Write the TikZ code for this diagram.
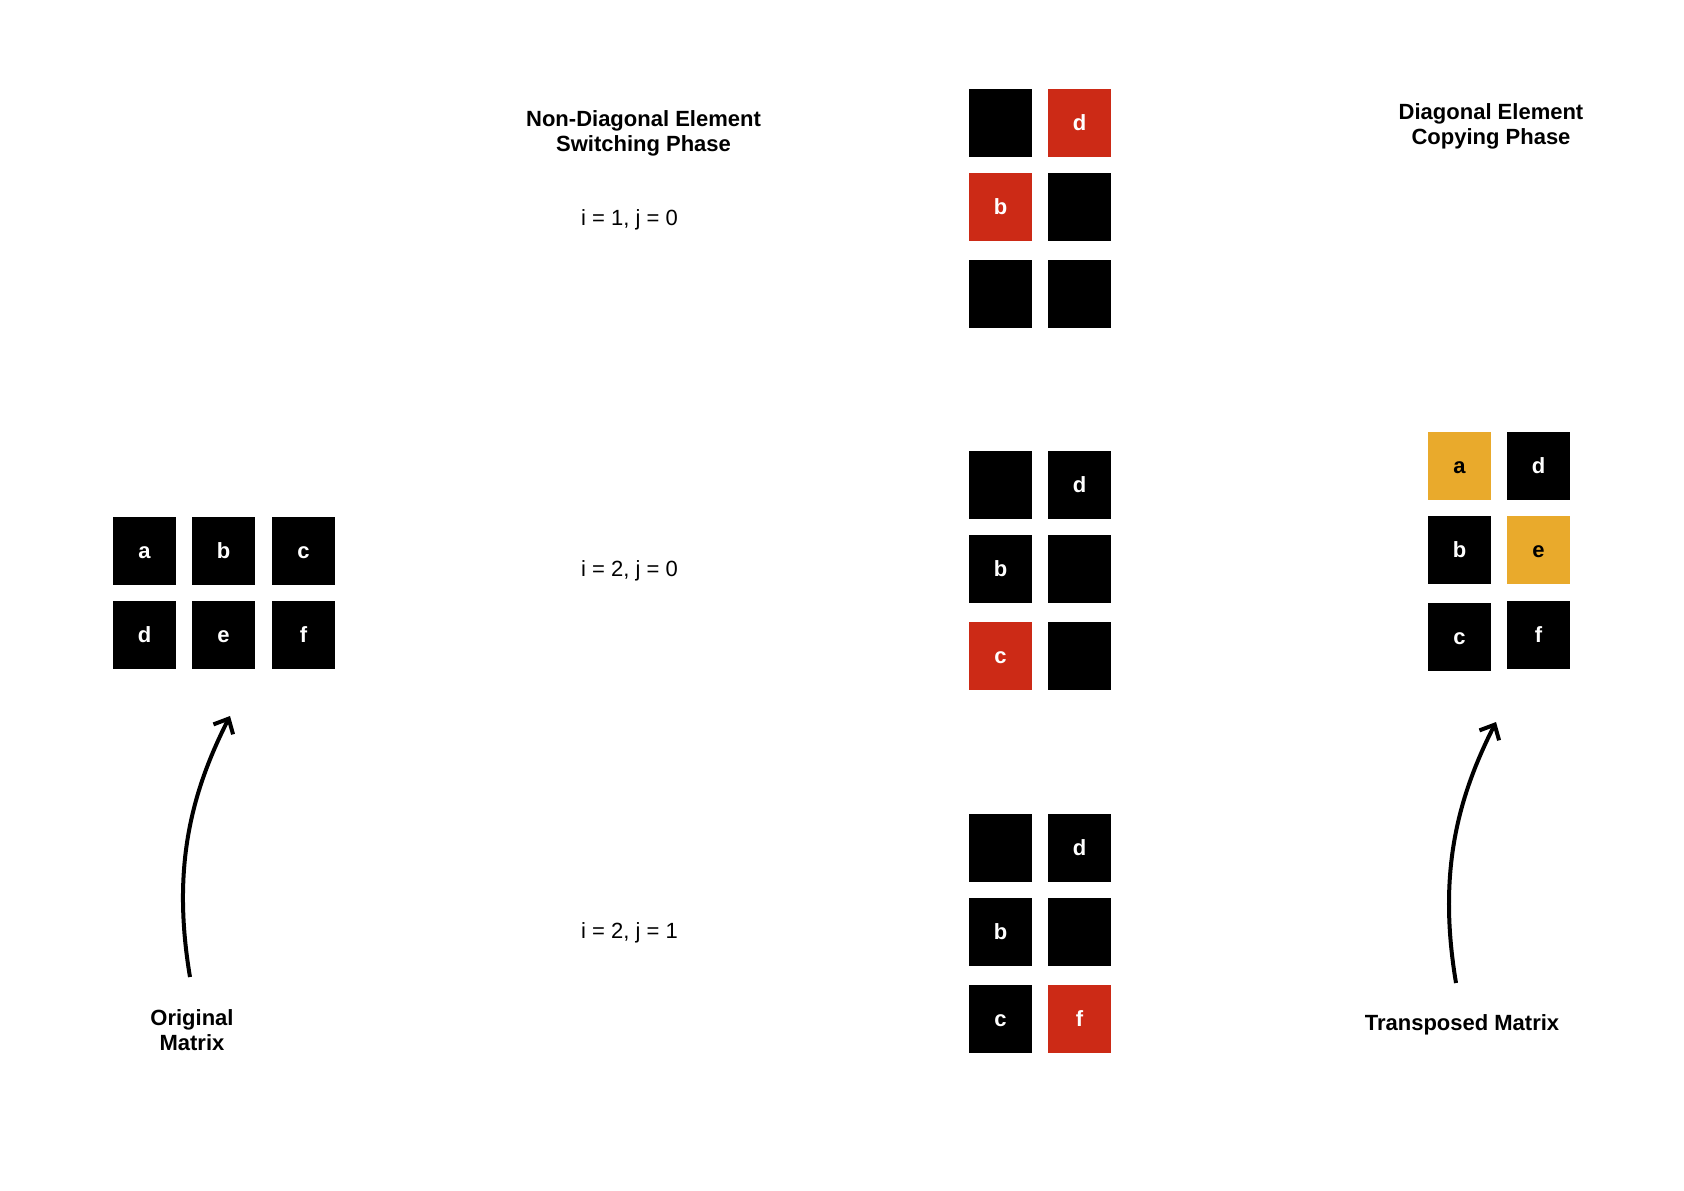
\documentclass[tikz,border=0pt]{standalone}
\usepackage{fontspec}
\setmainfont{Liberation Sans}
\usetikzlibrary{arrows.meta}
\definecolor{cellred}{RGB}{204,42,22}
\definecolor{cellgold}{RGB}{233,170,44}
\tikzset{
  cell/.style={rectangle, fill=black, text=white, inner sep=0pt,
    minimum width=31.5pt, minimum height=34pt,
    text height=0.72em, text depth=0pt,
    font=\fontsize{11}{12}\selectfont\bfseries},
  redcell/.style={cell, fill=cellred},
  goldcell/.style={cell, fill=cellgold, text=black},
  title/.style={align=center, inner sep=0pt,
    font=\fontsize{11}{12.5}\selectfont\bfseries},
  step label/.style={inner sep=0pt, font=\fontsize{11}{12.5}\selectfont},
  curvearrow/.style={line width=2pt, -{Straight Barb[length=6pt,width=11pt,line width=2pt]}}
}
\begin{document}
\begin{tikzpicture}[x=0.5pt,y=-0.5pt]
\useasboundingbox[fill=white] (0,0) rectangle (1684,1190);

% Original matrix
\node[cell] (oa) at (144.5,551) {a};
\node[cell] (ob) at (223.5,551) {b};
\node[cell] (oc) at (303.5,551) {c};
\node[cell] (od) at (144.5,635) {d};
\node[cell] (oe) at (223.5,635) {e};
\node[cell] (of) at (303.5,635) {f};

% Step 1
\node[cell]    (s1a) at (1000.5,123) {};
\node[redcell] (s1d) at (1079.5,123) {d};
\node[redcell] (s1b) at (1000.5,207) {b};
\node[cell]    (s1e) at (1079.5,207) {};
\node[cell]    (s1c) at (1000.5,294) {};
\node[cell]    (s1f) at (1079.5,294) {};

% Step 2
\node[cell]    (s2a) at (1000.5,485) {};
\node[cell]    (s2d) at (1079.5,485) {d};
\node[cell]    (s2b) at (1000.5,569) {b};
\node[cell]    (s2e) at (1079.5,569) {};
\node[redcell] (s2c) at (1000.5,656) {c};
\node[cell]    (s2f) at (1079.5,656) {};

% Step 3
\node[cell]    (s3a) at (1000.5,848) {};
\node[cell]    (s3d) at (1079.5,848) {d};
\node[cell]    (s3b) at (1000.5,932) {b};
\node[cell]    (s3e) at (1079.5,932) {};
\node[cell]    (s3c) at (1000.5,1019) {c};
\node[redcell] (s3f) at (1079.5,1019) {f};

% Transposed matrix
\node[goldcell] (ta) at (1459.5,466) {a};
\node[cell]     (td) at (1538.5,466) {d};
\node[cell]     (tb) at (1459.5,550) {b};
\node[goldcell] (te) at (1538.5,550) {e};
\node[cell]     (tc) at (1459.5,637) {c};
\node[cell]     (tf) at (1538.5,635) {f};

% Labels
\node[title] (phase1) at (643.5,133.5) {Non-Diagonal Element\\Switching Phase};
\node[title] (phase2) at (1491,126) {Diagonal Element\\Copying Phase};
\node[title] (origlbl) at (192,1030) {Original\\Matrix};
\node[title] (translbl) at (1462,1025) {Transposed Matrix};
\node[step label] (st1) at (629.5,220) {i = 1, j = 0};
\node[step label] (st2) at (629.5,571) {i = 2, j = 0};
\node[step label] (st3) at (629.5,933) {i = 2, j = 1};

% Arrows
\coordinate (la0) at (190,977);
\coordinate (la1) at (230,716);
\coordinate (ra0) at (1456,983);
\coordinate (ra1) at (1496,722);
\draw[curvearrow] (la0) .. controls (172,870) and (190,795) .. (la1);
\draw[curvearrow] (ra0) .. controls (1438,876) and (1456,801) .. (ra1);
\end{tikzpicture}
\end{document}
